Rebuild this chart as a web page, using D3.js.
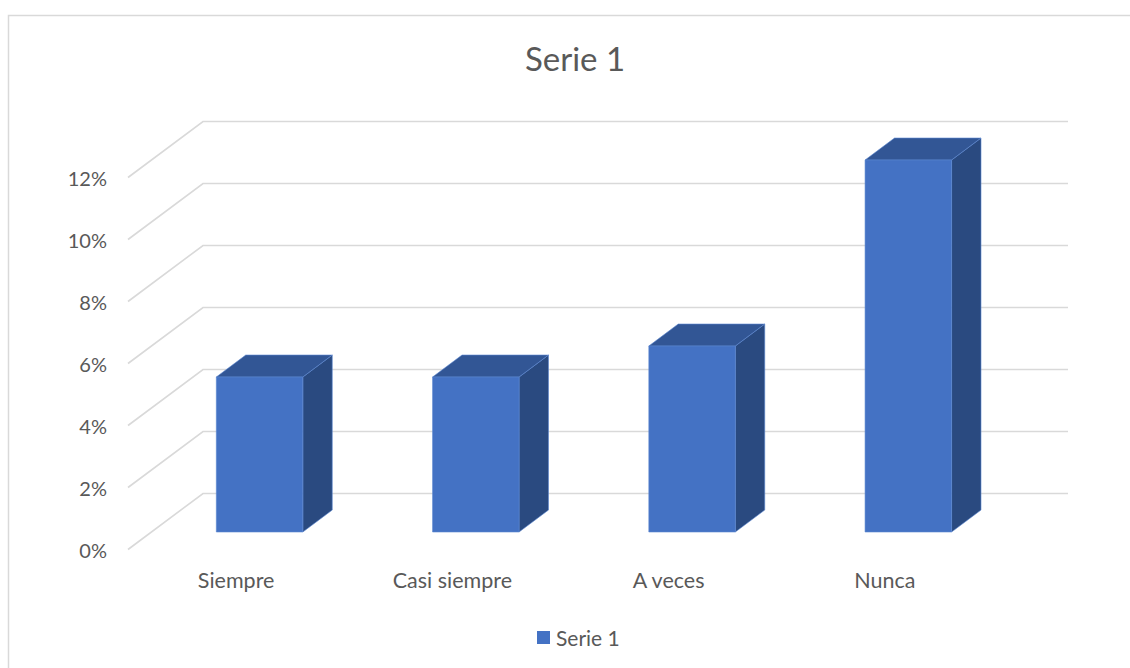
<!DOCTYPE html>
<html><head><meta charset="utf-8">
<script src="https://cdn.jsdelivr.net/npm/d3@7"></script>
<style>body{margin:0;background:#fff}svg{display:block}text{font-family:Lato,"Open Sans",sans-serif;fill:#595959}</style>
</head><body>
<script>
const categories = ["Siempre", "Casi siempre", "A veces", "Nunca"];
const values = [5, 5, 6, 12];
const yTicks = [0, 2, 4, 6, 8, 10, 12];
const seriesName = "Serie 1";
const title = "Serie 1";

const W = 1130, H = 668;
const svg = d3.select("body").append("svg").attr("width", W).attr("height", H);

svg.append("rect").attr("x", 8.5).attr("y", 15.5).attr("width", 1140).attr("height", 680)
  .attr("fill", "none").attr("stroke", "#d9d9d9").attr("stroke-width", 1.5);

// back wall scales
const x = d3.scaleBand().domain(categories).range([203, 1068]);
const y = d3.scaleLinear().domain([0, 12]).range([493.5, 121.5]);
const DX = -75, DY = 56; // offset from back (z=0) to front (z=1)
const P = (px, v, z) => [px + DX * z, y(v) + DY * z];

// gridlines
const g = svg.append("g");
yTicks.forEach(t => {
  const a = P(x.range()[1], t, 0), b = P(x.range()[0], t, 0), c = P(x.range()[0], t, 1);
  g.append("polyline").attr("points", [a, b, c].map(p => p.join(",")).join(" "))
    .attr("fill", "none").attr("stroke", "#d9d9d9").attr("stroke-width", 1.6);
  g.append("text").attr("x", c[0] - 21).attr("y", c[1] + 1.5).attr("dy", "0.36em")
    .attr("text-anchor", "end").attr("font-size", 20).text(t + "%");
});

// bars
const zF = 0.6875, zB = 0.295, wFrac = 0.4;
const bars = svg.append("g");
categories.forEach((cat, i) => {
  const cx = x(cat) + x.bandwidth() / 2;
  const hw = x.bandwidth() * wFrac / 2;
  const v = values[i];
  const fbl = P(cx - hw, 0, zF), fbr = P(cx + hw, 0, zF), ftl = P(cx - hw, v, zF), ftr = P(cx + hw, v, zF);
  const bbr = P(cx + hw, 0, zB), btl = P(cx - hw, v, zB), btr = P(cx + hw, v, zB);
  const poly = (pts, fill) => bars.append("polygon").attr("points", pts.map(p => p.join(",")).join(" "))
    .attr("fill", fill).attr("stroke", "#5b86d0").attr("stroke-width", 0.6).attr("stroke-linejoin", "round");
  poly([ftr, fbr, bbr, btr], "#2a4a80");
  poly([ftl, ftr, btr, btl], "#325695");
  poly([fbl, fbr, ftr, ftl], "#4472c4");
  const lp = P(cx, 0, 1);
  svg.append("text").attr("x", lp[0]).attr("y", lp[1] + 31).attr("dy", "0.36em")
    .attr("text-anchor", "middle").attr("font-size", 21.5).text(cat);
});

svg.append("text").attr("x", 575).attr("y", 59).attr("dy", "0.36em").attr("text-anchor", "middle")
  .attr("font-size", 33).text(title);

svg.append("rect").attr("x", 537).attr("y", 631).attr("width", 13).attr("height", 13).attr("fill", "#4472c4");
svg.append("text").attr("x", 556).attr("y", 638).attr("dy", "0.36em").attr("font-size", 21).text(seriesName);
</script>
</body></html>
